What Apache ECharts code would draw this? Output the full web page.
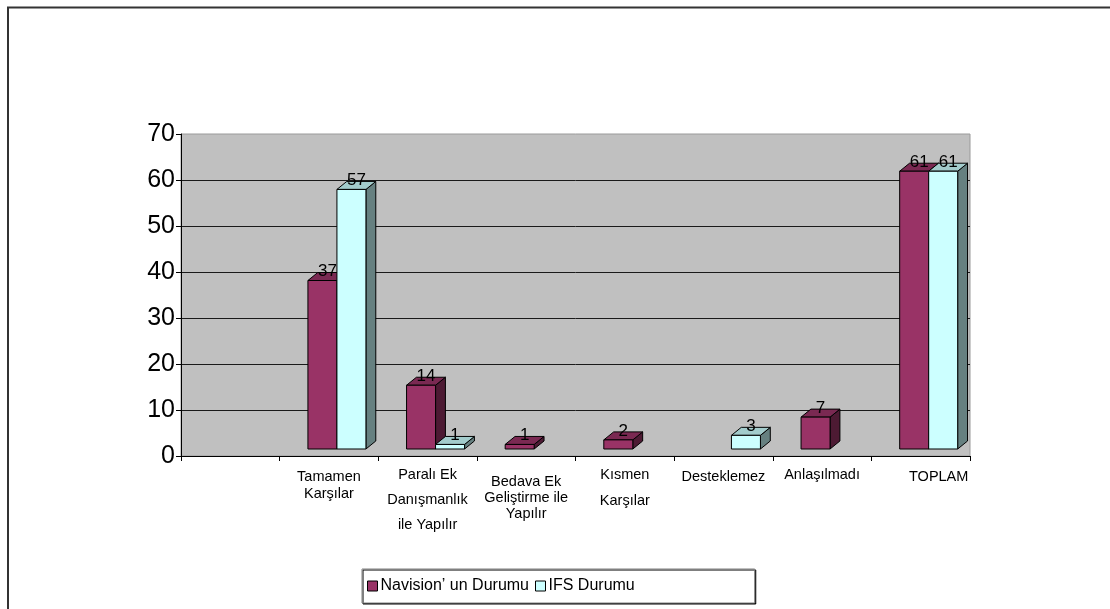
<!DOCTYPE html>
<html>
<head>
<meta charset="utf-8">
<script src="https://cdn.jsdelivr.net/npm/echarts@6/dist/echarts.min.js"></script>
<style>
html,body{margin:0;padding:0;background:#fff;}
#chart{width:1110px;height:609px;}
</style>
</head>
<body>
<div id="chart"></div>
<script>
// ---- data ----
const categories = ['', 'Tamamen\nKarşılar', 'Paralı Ek\nDanışmanlık\nile Yapılır', 'Bedava Ek\nGeliştirme ile\nYapılır', 'Kısmen\nKarşılar', 'Desteklemez', 'Anlaşılmadı', 'TOPLAM'];
const seriesNames = ['Navision’ un Durumu', 'IFS Durumu'];
const navisionValues = [null, 37, 14, 1, 2, null, 7, 61];
const ifsValues = [null, 57, 1, null, null, 3, null, 61];
const yTicks = [0, 10, 20, 30, 40, 50, 60, 70];

// ---- styles ----
const faceColors = [
  {front: '#993366', top: '#7a2952', side: '#4d1a33'},
  {front: '#ccffff', top: '#a3cccc', side: '#668080'}
];
const FONT = '"Liberation Sans", Arial, sans-serif';

function toData(vals) {
  const out = [];
  vals.forEach((v, i) => { if (v !== null && v !== undefined) out.push([i, v]); });
  return out;
}

function renderItem(params, api) {
  const idx = api.value(0);
  const v = api.value(1);
  const base = api.coord([idx, 0]);
  const top = api.coord([idx, v]);
  const bw = api.size([1, 0])[0];
  const w = bw * 0.294;
  const dx = bw * 0.1, dy = 8;
  const lift = 7;
  const x0 = base[0] - bw * 0.213 + params.seriesIndex * w;
  const yb = base[1] - lift;
  const h = (base[1] - top[1]) * 0.99;
  const yt = yb - h;
  const c = faceColors[params.seriesIndex];
  const stroke = {stroke: '#000', lineWidth: 1};
  return {
    type: 'group',
    children: [
      {type: 'polygon', shape: {points: [[x0 + w, yb], [x0 + w + dx, yb - dy], [x0 + w + dx, yt - dy], [x0 + w, yt]]},
        style: Object.assign({fill: c.side}, stroke)},
      {type: 'polygon', shape: {points: [[x0, yt], [x0 + dx, yt - dy], [x0 + w + dx, yt - dy], [x0 + w, yt]]},
        style: Object.assign({fill: c.top}, stroke)},
      {type: 'rect', shape: {x: x0, y: yt, width: w, height: h},
        style: Object.assign({fill: c.front}, stroke)},
      {type: 'text', x: x0 + w / 2 + 5, y: yt - 9,
        style: {text: String(v), fill: '#000', font: '17px ' + FONT, align: 'center', verticalAlign: 'middle', textAlign: 'center', textVerticalAlign: 'middle'}}
    ]
  };
}

// per-category label styling (spacer line + line height)
const labelSpacer = [0, 8.5, 2.5, 14, 2, 8.5, 6.5, 8.5];
const labelLH = [17, 17, 25, 16, 26, 17, 17, 17];
const rich = {};
categories.forEach((c, i) => {
  rich['s' + i] = {fontSize: 1, lineHeight: labelSpacer[i], height: labelSpacer[i]};
  rich['c' + i] = {fontSize: 14.5, lineHeight: labelLH[i], color: '#000', fontFamily: FONT, align: 'center', padding: i === 7 ? [0, 0, 0, 36] : 0};
});

const chart = echarts.init(document.getElementById('chart'), null, {renderer: 'canvas'});
chart.setOption({
  backgroundColor: '#fff',
  animation: false,
  textStyle: {fontFamily: FONT},
  graphic: [
    {type: 'polyline', shape: {points: [[8, 620], [8, 7.5], [1120, 7.5]]}, style: {stroke: '#333', lineWidth: 2, fill: null}, z: 100}
  ],
  grid: {left: 181, right: 140, top: 134, bottom: 153, show: true, backgroundColor: '#c0c0c0', borderColor: '#9a9a9a', borderWidth: 1, containLabel: false},
  legend: {
    data: seriesNames,
    left: 362, top: 569,
    orient: 'horizontal',
    icon: 'rect', itemWidth: 10, itemHeight: 10, itemGap: 6,
    itemStyle: {borderColor: '#000', borderWidth: 1},
    textStyle: {fontSize: 16, color: '#000', fontFamily: FONT, padding: [0, 0, 0, -2]},
    borderColor: '#808080', borderWidth: 1,
    padding: [9, 120, 9, 5],
    backgroundColor: '#fff',
    shadowColor: '#000', shadowOffsetX: 1, shadowOffsetY: 1, shadowBlur: 0
  },
  xAxis: {
    type: 'category',
    data: categories,
    boundaryGap: true,
    axisLine: {lineStyle: {color: '#000', width: 1}},
    axisTick: {show: true, length: 5, lineStyle: {color: '#000'}},
    axisLabel: {
      interval: 0, margin: 4,
      formatter: (val, i) => '{s' + i + '| }\n' + val.split('\n').map(l => '{c' + i + '|' + (l || ' ') + '}').join('\n'),
      rich: rich
    },
    splitLine: {show: false}
  },
  yAxis: {
    type: 'value',
    min: 0, max: 70, interval: 10,
    axisLine: {show: true, lineStyle: {color: '#000', width: 1}},
    axisTick: {show: true, length: 5, lineStyle: {color: '#000'}},
    axisLabel: {fontSize: 25, color: '#000', fontFamily: FONT, margin: 6,
      formatter: v => yTicks.indexOf(v) >= 0 ? String(v) : ''},
    splitLine: {show: true, showMaxLine: false, lineStyle: {color: '#1a1a1a', width: 1}}
  },
  series: [
    {name: seriesNames[0], type: 'custom', renderItem: renderItem, data: toData(navisionValues), encode: {x: 0, y: 1}, itemStyle: {color: faceColors[0].front}},
    {name: seriesNames[1], type: 'custom', renderItem: renderItem, data: toData(ifsValues), encode: {x: 0, y: 1}, itemStyle: {color: faceColors[1].front}}
  ]
});
</script>
</body>
</html>
